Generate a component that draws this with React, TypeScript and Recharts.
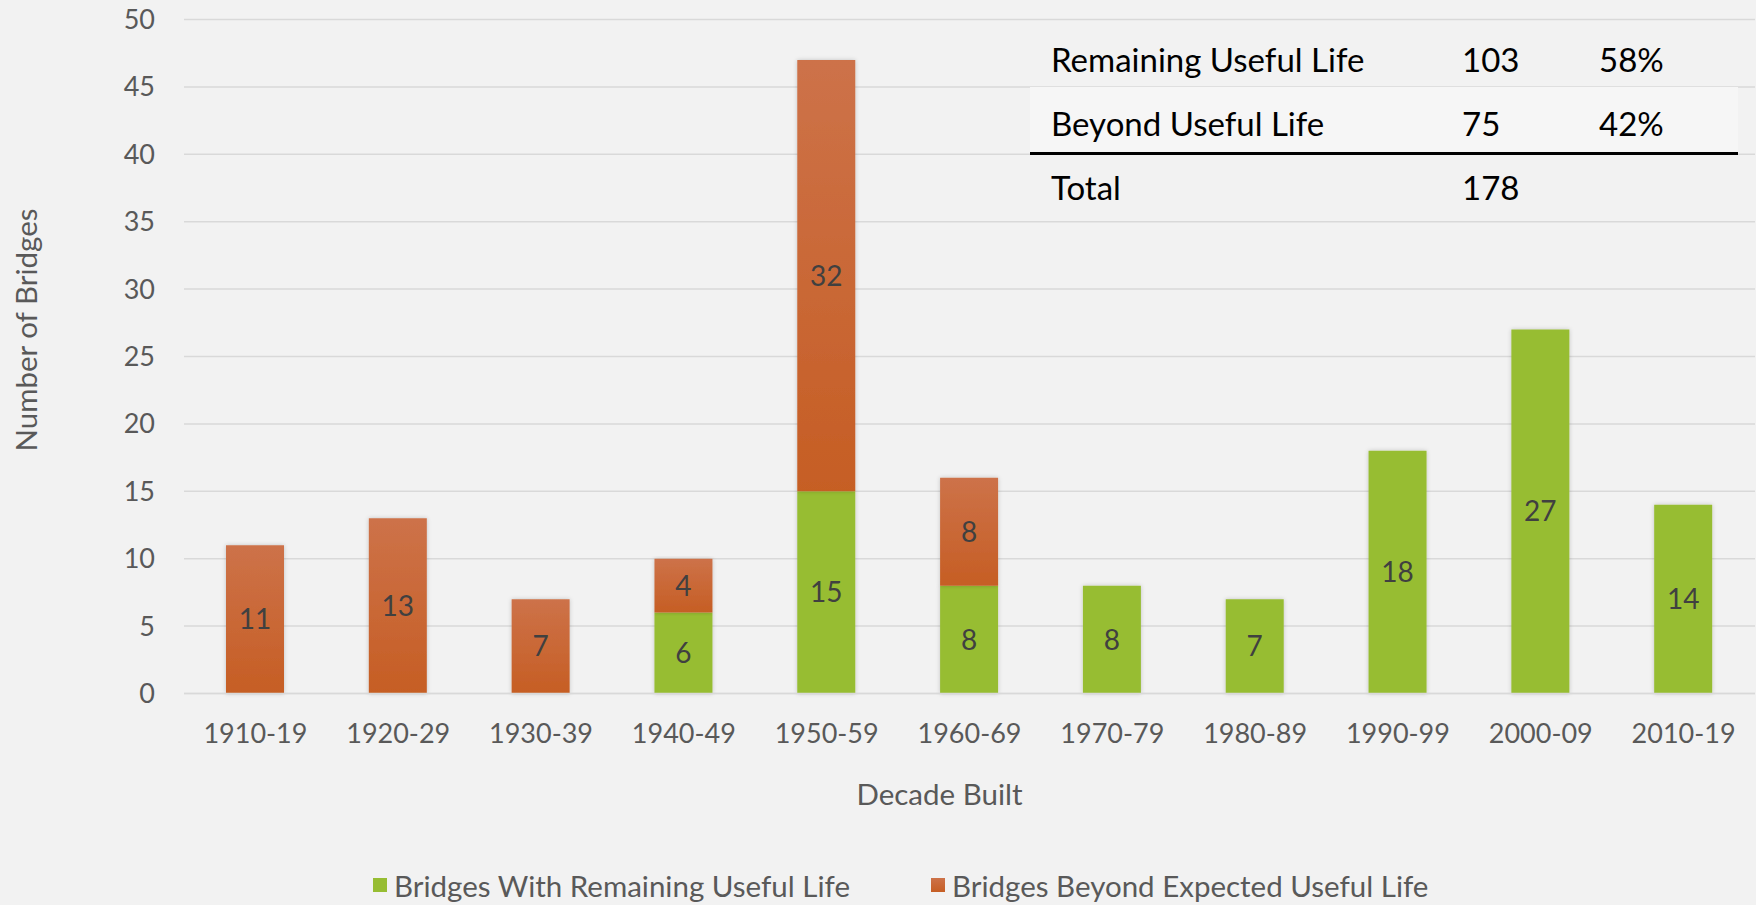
import { Bar, BarChart, CartesianGrid, LabelList, XAxis, YAxis } from 'recharts'

const decades = [
  '1910-19', '1920-29', '1930-39', '1940-49', '1950-59', '1960-69',
  '1970-79', '1980-89', '1990-99', '2000-09', '2010-19',
]
const remainingLife = [0, 0, 0, 6, 15, 8, 8, 7, 18, 27, 14]
const beyondLife = [11, 13, 7, 4, 32, 8, 0, 0, 0, 0, 0]
const yTicks = [0, 5, 10, 15, 20, 25, 30, 35, 40, 45, 50]

const summaryRows = [
  { label: 'Remaining Useful Life', count: '103', share: '58%' },
  { label: 'Beyond Useful Life', count: '75', share: '42%' },
  { label: 'Total', count: '178', share: '' },
]

const GREEN = '#97bd33'
const FONT = 'Lato, "Open Sans", sans-serif'
const MUTED = '#595959'

const chartData = decades.map((decade, i) => ({
  decade,
  remaining: remainingLife[i],
  beyond: beyondLife[i],
}))

const hideZero = (v: unknown) => (v ? String(v) : '')

export default function App() {
  return (
    <div
      style={{
        position: 'fixed',
        left: 0,
        top: 0,
        width: 1756,
        height: 905,
        background: '#f2f2f2',
        fontFamily: FONT,
        overflow: 'hidden',
      }}
    >
      <BarChart
        width={1756}
        height={905}
        data={chartData}
        margin={{ top: 19.5, right: 1, left: 0, bottom: 0 }}
      >
        <defs>
          <linearGradient id="orangeFill" x1="0" y1="0" x2="0" y2="1">
            <stop offset="0%" stopColor="#cd7249" />
            <stop offset="100%" stopColor="#c65e24" />
          </linearGradient>
          <filter id="barShadow" x="-20%" y="-5%" width="140%" height="110%">
            <feDropShadow dx="0" dy="0" stdDeviation="2" floodColor="#000" floodOpacity="0.2" />
          </filter>
        </defs>
        <CartesianGrid vertical={false} stroke="#d9d9d9" strokeWidth={1.5} />
        <XAxis
          dataKey="decade"
          height={211.5}
          tickLine={false}
          axisLine={{ stroke: '#d9d9d9', strokeWidth: 1.5 }}
          tickSize={0}
          tickMargin={30}
          tick={{ fill: MUTED, fontSize: 27, fontFamily: FONT }}
          label={{
            value: 'Decade Built',
            position: 'insideTop',
            offset: 91,
            dx: -30,
            fill: MUTED,
            fontSize: 29.5,
            fontFamily: FONT,
          }}
        />
        <YAxis
          width={184}
          domain={[0, 50]}
          ticks={yTicks}
          interval={0}
          tickLine={false}
          axisLine={false}
          tickSize={0}
          tickMargin={29}
          tick={{ fill: MUTED, fontSize: 27, fontFamily: FONT }}
          label={{
            content: () => (
              <text
                x={25}
                y={330}
                transform="rotate(-90 25 330)"
                textAnchor="middle"
                dominantBaseline="central"
                fill={MUTED}
                fontSize={29.5}
                fontFamily={FONT}
              >
                Number of Bridges
              </text>
            ),
          }}
        />
        <Bar
          dataKey="remaining"
          stackId="a"
          fill={GREEN}
          barSize={58}
          filter="url(#barShadow)"
          isAnimationActive={false}
        >
          <LabelList
            dataKey="remaining"
            position="center"
            formatter={hideZero}
            fill="#404040"
            fontSize={28}
            fontFamily={FONT}
          />
        </Bar>
        <Bar
          dataKey="beyond"
          stackId="a"
          fill="url(#orangeFill)"
          barSize={58}
          filter="url(#barShadow)"
          isAnimationActive={false}
        >
          <LabelList
            dataKey="beyond"
            position="center"
            formatter={hideZero}
            fill="#404040"
            fontSize={28}
            fontFamily={FONT}
          />
        </Bar>
      </BarChart>

      {/* summary table in the top right */}
      <div style={{ position: 'absolute', left: 1030, top: 87, width: 708, height: 66, background: '#f6f6f6' }} />
      <div style={{ position: 'absolute', left: 1030, top: 152, width: 708, height: 2.5, background: '#000' }} />
      {summaryRows.map((row, i) => (
        <div
          key={row.label}
          style={{
            position: 'absolute',
            left: 0,
            top: 59 + i * 64 - 22,
            height: 44,
            lineHeight: '44px',
            fontSize: 33,
            color: '#000',
          }}
        >
          <span style={{ position: 'absolute', left: 1051, whiteSpace: 'nowrap' }}>{row.label}</span>
          <span style={{ position: 'absolute', left: 1462 }}>{row.count}</span>
          <span style={{ position: 'absolute', left: 1599 }}>{row.share}</span>
        </div>
      ))}

      {/* legend */}
      <div
        style={{
          position: 'absolute',
          top: 865,
          left: 373,
          display: 'flex',
          alignItems: 'center',
          height: 40,
          fontSize: 29.5,
          color: MUTED,
          whiteSpace: 'nowrap',
        }}
      >
        <span style={{ width: 14, height: 14, background: GREEN, marginRight: 7 }} />
        <span style={{ width: 537 }}>Bridges With Remaining Useful Life</span>
        <span style={{ width: 14, height: 14, background: 'linear-gradient(#cd7249, #c65e24)', marginRight: 7 }} />
        <span>Bridges Beyond Expected Useful Life</span>
      </div>
    </div>
  )
}
